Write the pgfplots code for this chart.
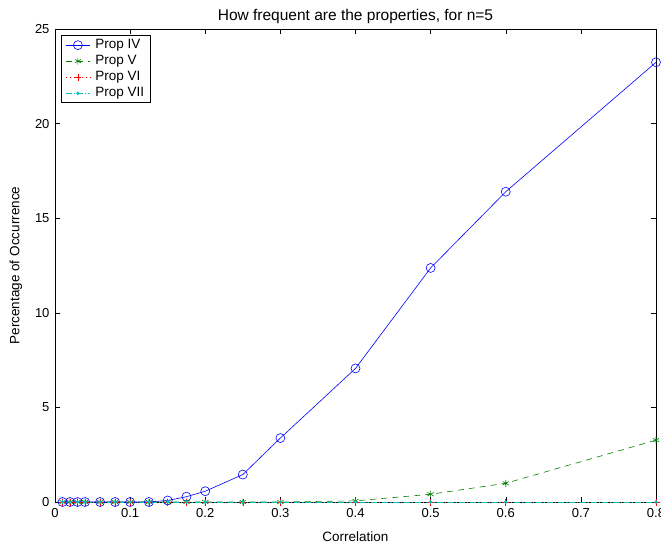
\documentclass[border=0pt]{standalone}
\usepackage{fontspec}
\setmainfont{Liberation Sans}
\usepackage{pgfplots}
\pgfplotsset{compat=1.18}
\definecolor{mblue}{rgb}{0,0,1}
\definecolor{mgreen}{rgb}{0,0.5,0}
\definecolor{mred}{rgb}{1,0,0}
\definecolor{mcyan}{rgb}{0,0.75,0.75}
\begin{document}
\fontsize{13}{15.5}\selectfont
\begin{tikzpicture}
\begin{axis}[
  scale only axis, width=601pt, height=473pt,
  xmin=0, xmax=0.8, ymin=0, ymax=25,
  xtick={0,0.1,0.2,0.3,0.4,0.5,0.6,0.7,0.8},
  ytick={0,5,10,15,20,25},
  xticklabels={0,0.1,0.2,0.3,0.4,0.5,0.6,0.7,0.8},
  /pgf/number format/assume math mode=true,
  tick align=inside, major tick length=5pt,
  tick style={black, line width=0.5pt},
  axis line style={black, line width=0.8pt},
  ticklabel style={font=\fontsize{13}{15.5}\selectfont},
  xticklabel style={yshift=-2pt},
  yticklabel style={xshift=-1pt},
  title={How frequent are the properties, for n=5},
  title style={yshift=-5pt, font=\fontsize{15.5}{18}\selectfont},
  xlabel={Correlation},
  ylabel={Percentage of Occurrence},
  label style={font=\fontsize{13.5}{16}\selectfont},
  xlabel style={yshift=-5pt},
  ylabel style={yshift=4pt},
  legend style={at={(0.010,0.987)}, anchor=north west, draw=black, line width=0.8pt,
    inner xsep=4pt, inner ysep=2pt, row sep=0.8pt, column sep=3pt,
    font=\fontsize{13.5}{16}\selectfont},
  legend cell align=left,
  legend image code/.code={\draw[mark repeat=2,mark phase=2] plot coordinates {(0cm,0cm)(0.43cm,0cm)(0.86cm,0cm)};},
]
\addplot[mblue, line width=0.6pt, mark=o, mark size=4.5pt, mark options={solid, mblue, line width=0.6pt}] coordinates {
(0.01,0)(0.02,0)(0.03,0)(0.04,0)(0.06,0)(0.08,0)(0.1,0)(0.125,0)(0.15,0.08)(0.175,0.28)(0.2,0.57)(0.25,1.45)(0.3,3.38)(0.4,7.06)(0.5,12.37)(0.6,16.4)(0.8,23.24)};
\addlegendentry{Prop IV}
\addplot[mgreen, line width=0.6pt, dash pattern=on 6pt off 5pt, mark=asterisk, mark size=3.5pt, mark options={solid, mgreen, line width=0.6pt}] coordinates {
(0.01,0)(0.02,0)(0.03,0)(0.04,0)(0.06,0)(0.08,0)(0.1,0)(0.125,0)(0.15,0)(0.175,0)(0.2,0)(0.25,0)(0.3,0)(0.4,0.06)(0.5,0.41)(0.6,0.99)(0.8,3.27)};
\addlegendentry{Prop V}
\addplot[mred, line width=0.6pt, dash pattern=on 1pt off 3pt, mark=+, mark size=3.5pt, mark options={solid, mred, line width=0.6pt}] coordinates {
(0.01,0)(0.02,0)(0.03,0)(0.04,0)(0.06,0)(0.08,0)(0.1,0)(0.125,0)(0.15,0)(0.175,0)(0.2,0)(0.25,0)(0.3,0)(0.4,0)(0.5,0)(0.6,0)(0.8,0)};
\addlegendentry{Prop VI}
\addplot[mcyan, line width=0.6pt, dash pattern=on 6pt off 2pt on 1pt off 2pt, mark=*, mark size=1.4pt, mark options={solid, mcyan}] coordinates {
(0.01,0)(0.02,0)(0.03,0)(0.04,0)(0.06,0)(0.08,0)(0.1,0)(0.125,0)(0.15,0)(0.175,0)(0.2,0)(0.25,0)(0.3,0)(0.4,0)(0.5,0)(0.6,0)(0.8,0)};
\addlegendentry{Prop VII}
\end{axis}
\pgfresetboundingbox
\useasboundingbox ([shift={(-55pt,-48pt)}]current axis.south west) rectangle ([shift={(5pt,29pt)}]current axis.north east);
\end{tikzpicture}
\end{document}
